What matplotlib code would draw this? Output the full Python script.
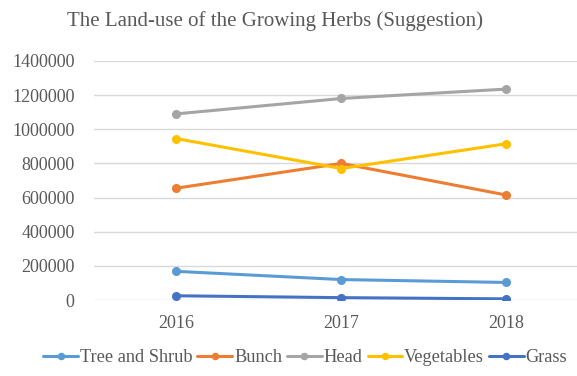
import matplotlib.pyplot as plt

years = ['2016', '2017', '2018']
tree_shrub = [168000, 120000, 103000]
bunch = [655000, 800000, 615000]
head = [1090000, 1180000, 1235000]
vegetables = [945000, 770000, 915000]
grass = [25000, 14000, 7000]

series = [
    ('Tree and Shrub', tree_shrub, '#5B9BD5'),
    ('Bunch', bunch, '#ED7D31'),
    ('Head', head, '#A5A5A5'),
    ('Vegetables', vegetables, '#FFC000'),
    ('Grass', grass, '#4472C4'),
]


def main():
    plt.rcParams['font.family'] = ['Liberation Serif', 'DejaVu Serif']
    fig = plt.figure(figsize=(5.77, 3.76), dpi=100)
    ax = fig.add_axes([0.163, 0.202, 0.837, 0.636])

    x = list(range(len(years)))
    for name, vals, col in series:
        ax.plot(x, vals, color=col, linewidth=2.2, marker='o', markersize=5.5,
                label=name, solid_capstyle='round')

    ax.set_xlim(-0.5, 2.43)
    ax.set_ylim(0, 1400000)
    ax.set_yticks(range(0, 1400001, 200000))
    ax.set_yticklabels([str(v) for v in range(0, 1400001, 200000)])
    ax.set_xticks(x)
    ax.set_xticklabels(years)
    ax.tick_params(length=0, labelsize=13, colors='#595959')
    ax.tick_params(axis='x', pad=11)
    ax.tick_params(axis='y', pad=14)
    ax.grid(axis='y', color='#d9d9d9', linewidth=1)
    ax.set_axisbelow(True)
    for s in ax.spines.values():
        s.set_visible(False)

    fig.text(0.477, 0.945, 'The Land-use of the Growing Herbs (Suggestion)',
             ha='center', va='center', fontsize=15, color='#595959')
    fig.legend(loc='center', bbox_to_anchor=(0.529, 0.048), ncol=5,
               frameon=False, fontsize=13.2, handlelength=1.9,
               handletextpad=0.1, columnspacing=0.27, labelcolor='#595959',
               markerscale=0.8)

    fig.savefig('out.png', dpi=100)


if __name__ == '__main__':
    main()
